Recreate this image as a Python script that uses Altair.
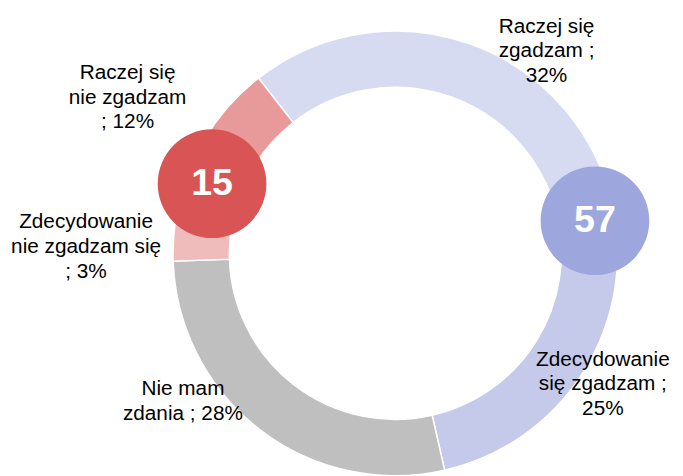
import math
import altair as alt
import pandas as pd

# ---- data ----
categories = [
    "Raczej się zgadzam",
    "Zdecydowanie się zgadzam",
    "Nie mam zdania",
    "Zdecydowanie nie zgadzam się",
    "Raczej się nie zgadzam",
]
values = [32, 25, 28, 3, 12]
labels = [
    "Raczej się\nzgadzam ;\n32%",
    "Zdecydowanie\nsię zgadzam ;\n25%",
    "Nie mam\nzdania ; 28%",
    "Zdecydowanie\nnie zgadzam się\n; 3%",
    "Raczej się\nnie zgadzam\n; 12%",
]
agree = values[0] + values[1]       # 57
disagree = values[3] + values[4]    # 15

# ---- styles / layout ----
colors = ["#D7DBF1", "#C5C9EA", "#BFBFBF", "#EFBBBB", "#E89999"]
CX, CY = 392, 245.5
R_OUT, R_IN = 225, 168
START = math.radians(-38)
label_pos = [(545, 22), (602, 359), (177, 389), (79, 220), (121, 69)]
badge_pos = [(206.5, 175), (594, 212.5)]
badge_colors = ["#D95455", "#9DA7DE"]
BADGE_R = 55

df = pd.DataFrame({"category": categories, "value": values, "order": list(range(len(values)))})
lab = pd.DataFrame({
    "label": labels,
    "lx": [p[0] for p in label_pos],
    "ly": [p[1] for p in label_pos],
})
badges = pd.DataFrame({
    "num": [str(disagree), str(agree)],
    "bx": [p[0] for p in badge_pos],
    "by": [p[1] for p in badge_pos],
    "col": badge_colors,
})

donut = alt.Chart(df).mark_arc(
    radius=R_OUT, radius2=R_IN, stroke="white", strokeWidth=1.5
).encode(
    x=alt.value(CX),
    y=alt.value(CY),
    theta=alt.Theta("value:Q", stack=True,
                    scale=alt.Scale(range=[START, START + 2 * math.pi])),
    order=alt.Order("order:Q"),
    color=alt.Color("category:N", scale=alt.Scale(domain=categories, range=colors), legend=None),
)

text = alt.Chart(lab).mark_text(
    lineBreak="\n", lineHeight=25, fontSize=21, font="Liberation Sans",
    align="center", baseline="alphabetic", color="#000000"
).encode(
    x=alt.X("lx:Q", scale=None, axis=None),
    y=alt.Y("ly:Q", scale=None, axis=None),
    text="label:N",
)

circles = alt.Chart(badges).mark_circle(size=(2 * BADGE_R) ** 2, opacity=1).encode(
    x=alt.X("bx:Q", scale=None, axis=None),
    y=alt.Y("by:Q", scale=None, axis=None),
    color=alt.Color("col:N", scale=None, legend=None),
)

nums = alt.Chart(badges).mark_text(
    fontSize=38, fontWeight="bold", font="Liberation Sans", color="white",
    align="center", baseline="middle"
).encode(
    x=alt.X("bx:Q", scale=None, axis=None),
    y=alt.Y("by:Q", scale=None, axis=None),
    text="num:N",
)

chart = alt.layer(donut, text, circles, nums).properties(
    width=675, height=468,
    autosize=alt.AutoSizeParams(type="none"),
    padding=0,
).configure_view(stroke=None)

chart.save("out.html", embed_options={"renderer": "svg", "actions": False})
